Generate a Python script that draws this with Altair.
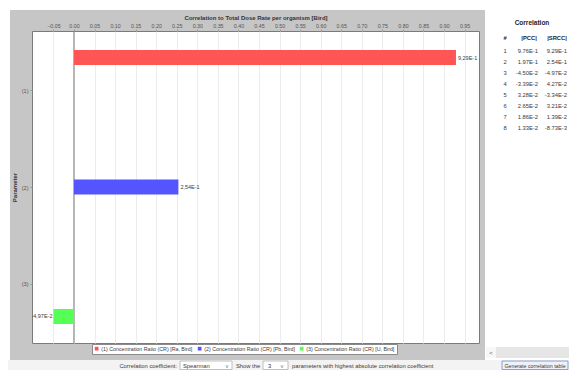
import altair as alt
import pandas as pd

# ---- data ----
params = ["(1)", "(2)", "(3)"]
names = [
    "(1) Concentration Ratio (CR) [Ra, Bird]",
    "(2) Concentration Ratio (CR) [Pb, Bird]",
    "(3) Concentration Ratio (CR) [U, Bird]",
]
values = [0.929, 0.254, -0.0497]
value_labels = ["9,29E-1", "2,54E-1", "-4,97E-2"]
colors = ["#ff5555", "#5555ff", "#55ff55"]
tick_values = [round(-0.05 + 0.05 * i, 2) for i in range(21)]

rows = [1, 2, 3, 4, 5, 6, 7, 8]
pcc = ["9.76E-1", "1.97E-1", "-4.50E-2", "-3.39E-2", "3.28E-2", "2.65E-2", "1.86E-2", "1.33E-2"]
srcc = ["9.29E-1", "2.54E-1", "-4.97E-2", "4.27E-2", "-3.34E-2", "3.21E-2", "1.39E-2", "-8.73E-3"]

bars = pd.DataFrame({"param": params, "name": names, "value": values, "label": value_labels})
table = pd.DataFrame({"row": rows, "pcc": pcc, "srcc": srcc})

FONT = "Liberation Sans"
TXT = "#3a3a3a"
one = alt.Data(values=[{"a": 1}])

xscale = alt.Scale(domain=[-0.102, 0.985], nice=False, zero=False)
band = alt.Scale(type="band", domain=params, paddingInner=0.884, paddingOuter=0.147)

xaxis = alt.Axis(
    orient="top",
    values=tick_values,
    format=".2f",
    labelOverlap=False,
    labelSeparation=0,
    labelBound=False,
    title="Correlation to Total Dose Rate per organism [Bird]",
    titleFont=FONT,
    titleFontSize=6,
    titleFontWeight="bold",
    titleColor="#333",
    titlePadding=3,
    labelFont=FONT,
    labelFontSize=5.3,
    labelColor="#555",
    labelPadding=1,
    tickSize=2,
    tickColor="#999",
    domain=False,
    grid=True,
    gridColor="#ececec",
)


def box(x1, x2, y1, y2, **kw):
    return alt.Chart(one).mark_rect(**kw).encode(
        x=alt.value(x1), x2=alt.value(x2), y=alt.value(y1), y2=alt.value(y2)
    )


def label(text, x, y, **kw):
    kw.setdefault("font", FONT)
    kw.setdefault("fontSize", 5.8)
    kw.setdefault("color", TXT)
    kw.setdefault("baseline", "middle")
    return alt.Chart(one).mark_text(text=text, **kw).encode(x=alt.value(x), y=alt.value(y))


# white / light regions outside the grey panel
bg = [
    box(-24, 545, -23, -21, color="white"),
    box(-24, -22, -23, 329, color="white"),
    box(453, 545, -23, 329, color="white"),
    box(-24, 545, 329, 352, color="#f3f3f3"),
]

zero = alt.Chart(pd.DataFrame({"x": [0]})).mark_rule(color="#7a7a7a", strokeWidth=1).encode(
    x=alt.X("x:Q", scale=xscale, axis=xaxis)
)

bar_layer = alt.Chart(bars).mark_bar().encode(
    x=alt.X("value:Q", scale=xscale, axis=xaxis),
    y=alt.Y("param:N", scale=band, axis=None),
    color=alt.Color(
        "name:N",
        scale=alt.Scale(domain=names, range=colors),
        legend=alt.Legend(
            orient="none",
            legendX=60,
            legendY=313,
            direction="horizontal",
            title=None,
            fillColor="white",
            strokeColor="#8a8a8a",
            padding=2,
            symbolType="square",
            symbolSize=14,
            symbolStrokeWidth=0,
            labelFont=FONT,
            labelFontSize=5.3,
            labelColor=TXT,
            labelLimit=200,
            columnPadding=4,
            symbolOffset=0,
            labelOffset=2,
        ),
    ),
)

pos_text = alt.Chart(bars).transform_filter("datum.value >= 0").mark_text(
    align="left", dx=2, font=FONT, fontSize=5.5, color=TXT, baseline="middle"
).encode(
    x=alt.X("value:Q", scale=xscale, axis=xaxis),
    y=alt.Y("param:N", scale=band, axis=None),
    text="label:N",
)
neg_text = alt.Chart(bars).transform_filter("datum.value < 0").mark_text(
    align="right", dx=-1, font=FONT, fontSize=5.5, color=TXT, baseline="middle", clip=True
).encode(
    x=alt.X("value:Q", scale=xscale, axis=xaxis),
    y=alt.Y("param:N", scale=band, axis=None),
    text="label:N",
)

yaxis_layer = alt.Chart(bars).mark_point(opacity=0).encode(
    y=alt.Y(
        "param:N",
        scale=alt.Scale(type="point", domain=params, padding=0.61),
        axis=alt.Axis(
            orient="left",
            title="Parameter",
            titleFont=FONT,
            titleFontSize=6,
            titleFontWeight="bold",
            titleColor="#333",
            titlePadding=4,
            labelFont=FONT,
            labelFontSize=5.5,
            labelColor="#555",
            labelPadding=2,
            tickSize=2,
            tickColor="#999",
            domain=False,
            grid=False,
        ),
    ),
)

# correlation table on the right
trow = alt.Scale(type="point", range=[19.5, 96.7], padding=0)
tbl_num = alt.Chart(table).mark_text(font=FONT, fontSize=5.8, color=TXT, align="center", baseline="middle").encode(
    x=alt.value(473), y=alt.Y("row:O", scale=trow, axis=None), text="row:N"
)
tbl_pcc = alt.Chart(table).mark_text(font=FONT, fontSize=5.8, color=TXT, align="right", baseline="middle").encode(
    x=alt.value(506), y=alt.Y("row:O", scale=trow, axis=None), text="pcc:N"
)
tbl_srcc = alt.Chart(table).mark_text(font=FONT, fontSize=5.8, color=TXT, align="right", baseline="middle").encode(
    x=alt.value(535), y=alt.Y("row:O", scale=trow, axis=None), text="srcc:N"
)
tbl_head = [
    label("Correlation", 500, -8, fontSize=6.5, fontWeight="bold", align="center", color="#222"),
    label("#", 473, 7, fontSize=5.8, fontWeight="bold", align="center", color="#222"),
    label("|PCC|", 497, 7, fontSize=5.8, fontWeight="bold", align="center", color="#222"),
    label("|SRCC|", 525, 7, fontSize=5.8, fontWeight="bold", align="center", color="#222"),
]

# scrollbar under table
scroll = [
    box(454, 545, 316, 327, color="#e6e6e6"),
    box(454, 464, 316, 327, color="#f7f7f7"),
    label("<", 459, 321.5, fontSize=6, align="center", color="#555"),
]

# bottom control bar
controls = [
    label("Correlation coefficient:", 145, 334.5, align="right"),
    box(148, 200, 330, 338.5, color="white", stroke="#a8a8a8", strokeWidth=0.7),
    label("Spearman", 151, 334.5, align="left"),
    label("v", 195, 334.5, align="center", color="#777"),
    label("Show the", 204, 334.5, align="left"),
    box(231, 256, 330, 338.5, color="white", stroke="#a8a8a8", strokeWidth=0.7),
    label("3", 236, 334.5, align="left"),
    label("v", 250, 334.5, align="center", color="#777"),
    label("parameters with highest absolute correlation coefficient", 260, 334.5, align="left"),
    box(470, 536, 330, 338.5, color="#eef2f8", stroke="#6d8ec4", strokeWidth=0.8),
    label("Generate correlation table", 503, 334.5, align="center", fontSize=5.3),
]

chart = alt.layer(
    *bg,
    zero,
    bar_layer,
    pos_text,
    neg_text,
    yaxis_layer,
    tbl_num,
    tbl_pcc,
    tbl_srcc,
    *tbl_head,
    *scroll,
    *controls,
).resolve_scale(y="independent").properties(
    width=447,
    height=312,
    autosize=alt.AutoSizeParams(type="none"),
    padding={"left": 24, "top": 23, "right": 90, "bottom": 27},
    background="#c6c6c6",
).configure_view(
    fill="white", stroke="#7a7a7a", strokeWidth=1
)

chart.save("out.html", embed_options={"renderer": "svg", "actions": False})
